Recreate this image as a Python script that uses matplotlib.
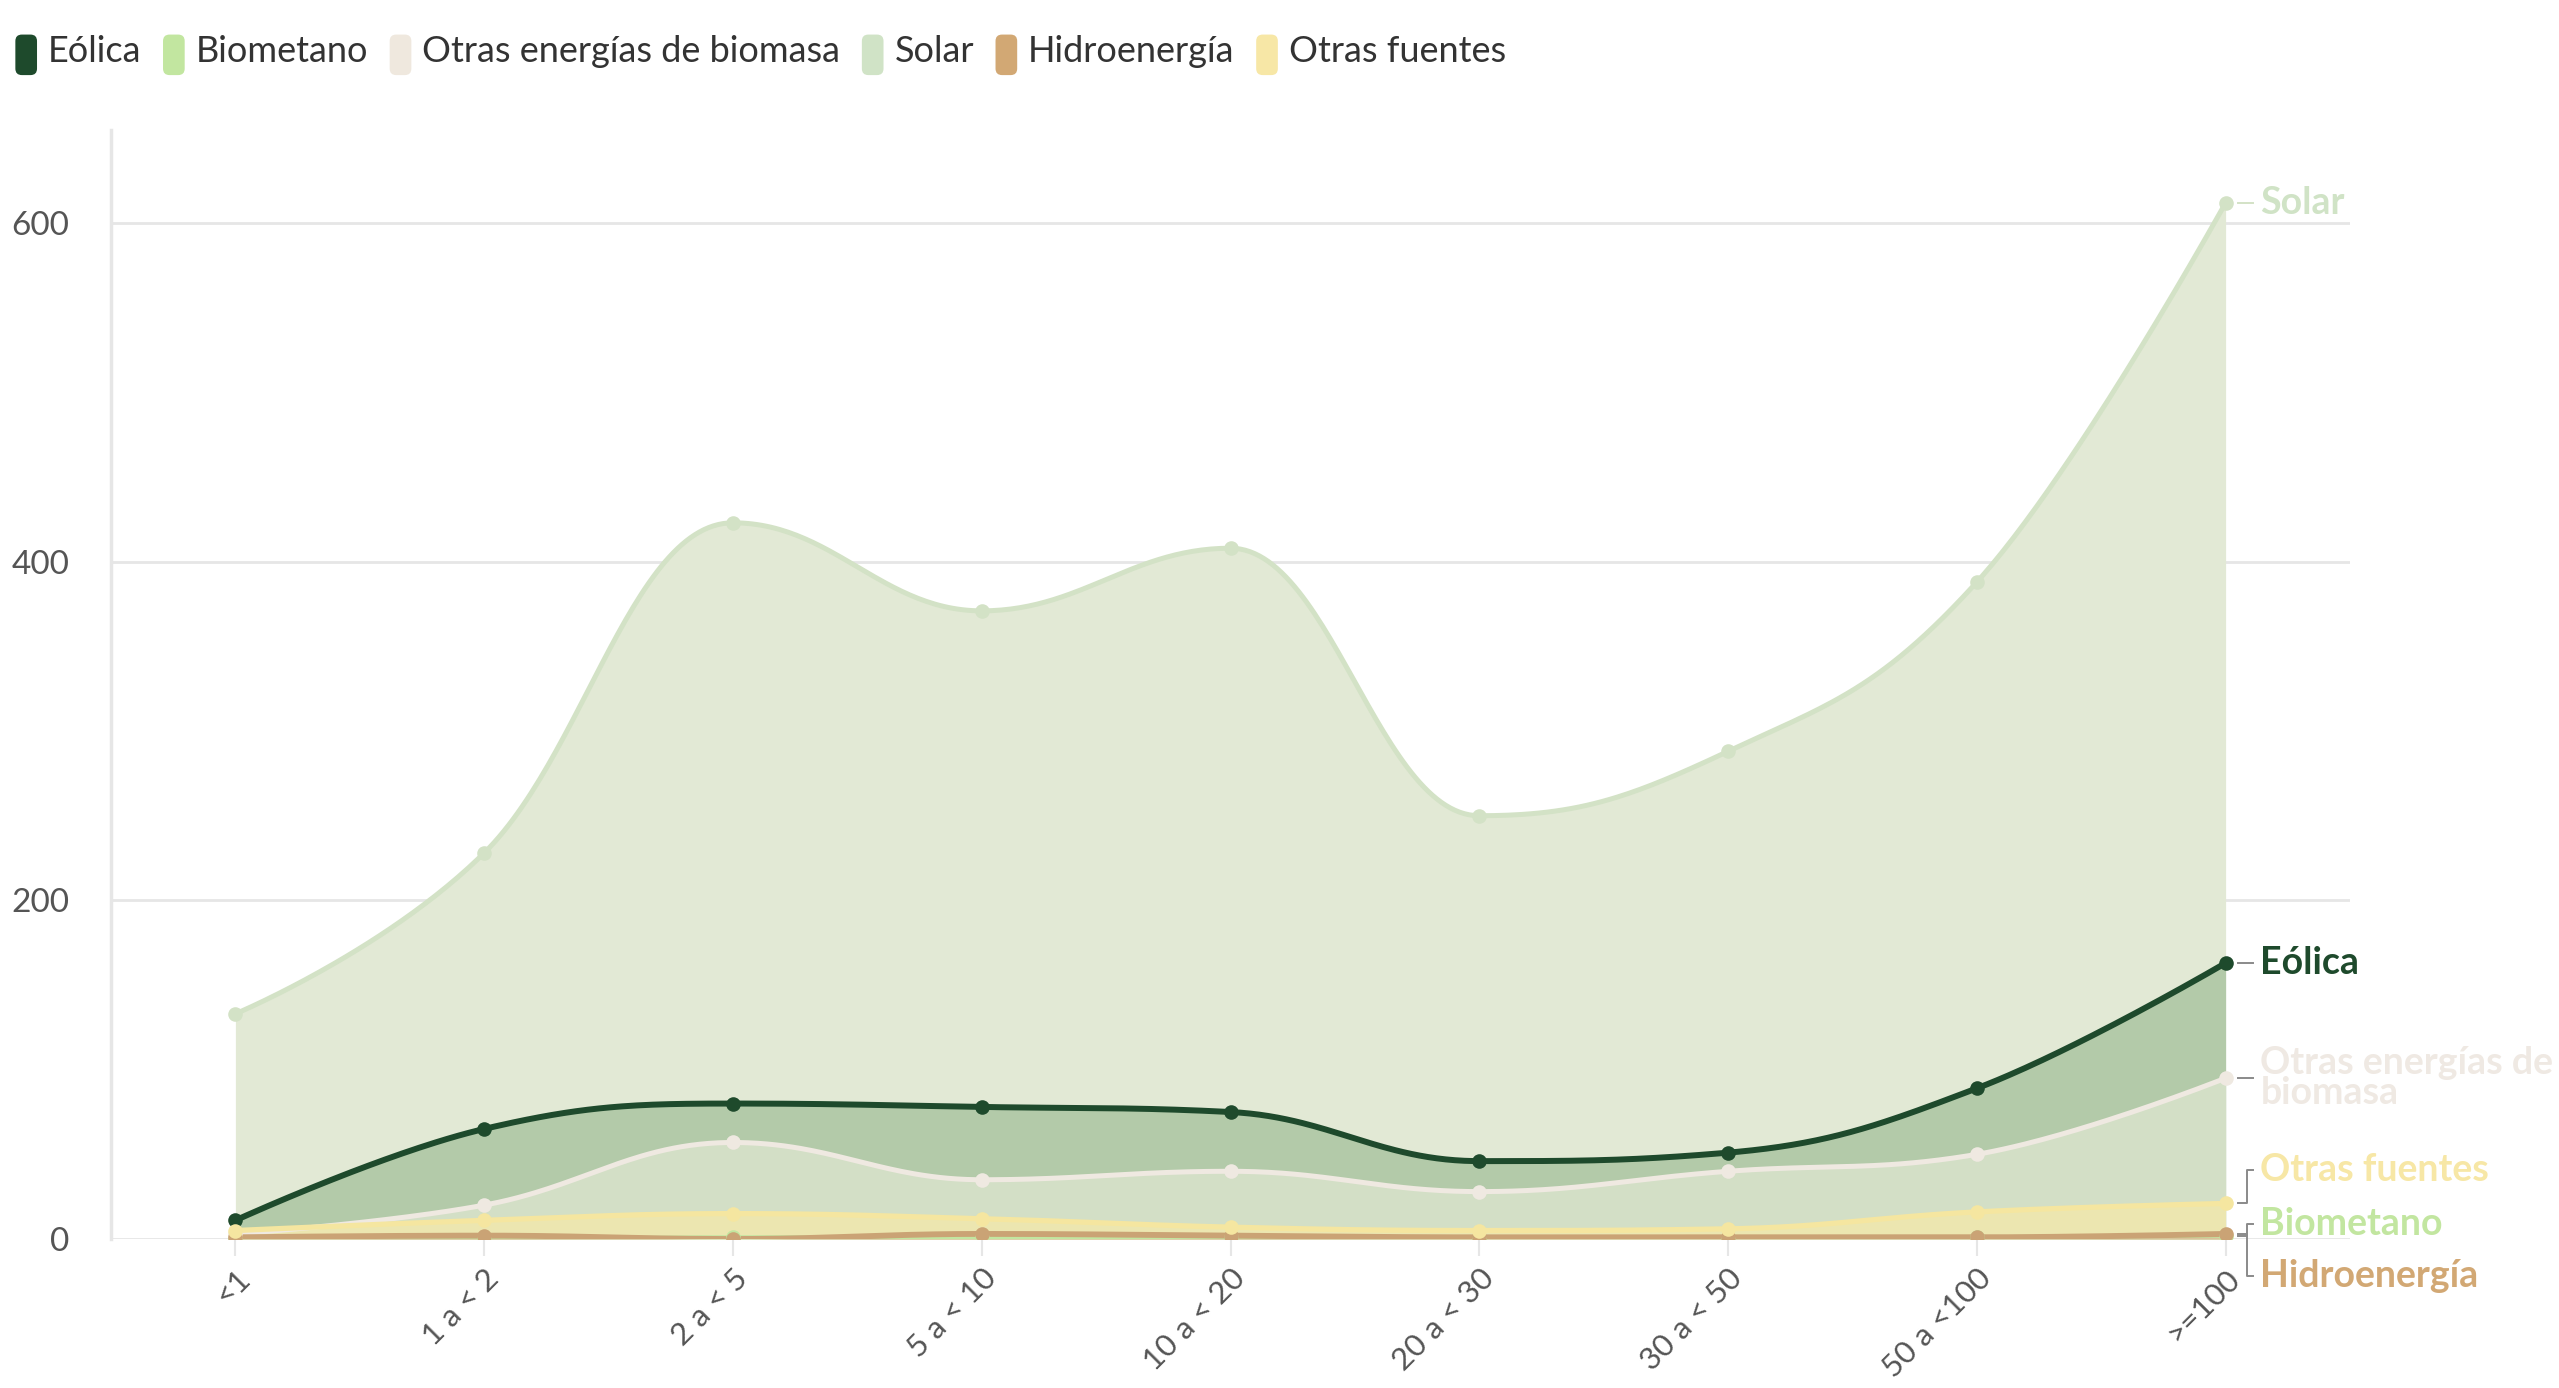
import numpy as np
import matplotlib
matplotlib.use('Agg')
import matplotlib.pyplot as plt
from matplotlib.patches import FancyBboxPatch, Patch
from matplotlib.legend_handler import HandlerBase

# ---------------- data ----------------
categories = ['<1', '1 a < 2', '2 a < 5', '5 a < 10', '10 a < 20',
              '20 a < 30', '30 a < 50', '50 a <100', '>=100']
eolica = [11, 65, 80, 78, 75, 46, 51, 89, 163]
biometano = [0, 0, 1, 1, 1, 0, 0, 1, 2]
otras_biomasa = [3, 20, 57, 35, 40, 28, 40, 50, 95]
solar = [133, 228, 423, 371, 408, 250, 288, 388, 612]
hidroenergia = [1, 2, 0, 3, 2, 1, 1, 1, 3]
otras_fuentes = [5, 11, 15, 12, 7, 5, 6, 16, 21]

series_names = ['Eólica', 'Biometano', 'Otras energías de biomasa', 'Solar',
                'Hidroenergía', 'Otras fuentes']
series_values = [eolica, biometano, otras_biomasa, solar, hidroenergia, otras_fuentes]
series_colors = ['#1e4a2c', '#c2e6a0', '#efe8de', '#d0e3c6', '#d2a874', '#f7e7a6']
line_colors = ['#1e4a2c', '#c2e6a0', '#efe9e1', '#d3e2c6', '#caa375', '#f5e6a0']
fill_colors = ['#b3caa9', '#dfe9c0', '#d3dfc6', '#e2e9d5', '#d9c39a', '#ece6b0']
fill_order = [3, 0, 2, 5, 1, 4]            # drawing order of the areas
line_w = [4.3, 3, 3.6, 3.6, 4.2, 3.8]
end_labels = ['Eólica', 'Biometano', 'Otras energías de\nbiomasa', 'Solar',
              'Hidroenergía', 'Otras fuentes']
label_shift = [0, 7, 0, 0, -25, 20]   # vertical shift of end labels (data units)

FONT = 'Lato'
plt.rcParams['font.family'] = [FONT, 'DejaVu Sans']


def hc_spline(xs, ys, smoothing=1.5, n=60):
    xs = np.asarray(xs, float)
    ys = np.asarray(ys, float)
    N = len(xs)
    lc = [None] * N
    rc = [None] * N
    for i in range(N):
        px, py = xs[i], ys[i]
        if 0 < i < N - 1:
            lx, ly = xs[i - 1], ys[i - 1]
            nx, ny = xs[i + 1], ys[i + 1]
            d = smoothing + 1
            lcx = (smoothing * px + lx) / d
            lcy = (smoothing * py + ly) / d
            rcx = (smoothing * px + nx) / d
            rcy = (smoothing * py + ny) / d
            if rcx != lcx:
                corr = ((rcy - lcy) * (rcx - px)) / (rcx - lcx) + py - rcy
                lcy += corr
                rcy += corr
            if lcy > ly and lcy > py:
                lcy = max(ly, py); rcy = 2 * py - lcy
            elif lcy < ly and lcy < py:
                lcy = min(ly, py); rcy = 2 * py - lcy
            if rcy > ny and rcy > py:
                rcy = max(ny, py); lcy = 2 * py - rcy
            elif rcy < ny and rcy < py:
                rcy = min(ny, py); lcy = 2 * py - rcy
            lc[i] = (lcx, lcy)
            rc[i] = (rcx, rcy)
        else:
            lc[i] = (px, py)
            rc[i] = (px, py)
    t = np.linspace(0, 1, n)
    X, Y = [], []
    for i in range(1, N):
        p0 = np.array([xs[i - 1], ys[i - 1]])
        p1 = np.array(rc[i - 1])
        p2 = np.array(lc[i])
        p3 = np.array([xs[i], ys[i]])
        b = ((1 - t) ** 3)[:, None] * p0 + (3 * (1 - t) ** 2 * t)[:, None] * p1 \
            + (3 * (1 - t) * t ** 2)[:, None] * p2 + (t ** 3)[:, None] * p3
        if i > 1:
            b = b[1:]
        X.append(b[:, 0]); Y.append(b[:, 1])
    return np.concatenate(X), np.concatenate(Y)


W, H, DPI = 2559, 1388, 100
fig = plt.figure(figsize=(W / DPI, H / DPI), dpi=DPI)
ax = fig.add_axes([111 / W, 1 - 1239 / H, (2350 - 111) / W, (1239 - 130) / H])

x = np.arange(len(categories))

for z, k in enumerate(fill_order):
    cx, cy = hc_spline(x, series_values[k])
    ax.fill_between(cx, 0, cy, color=fill_colors[k], lw=0, zorder=2 + z)

for k in [3, 0, 2, 1, 5, 4]:
    vals = series_values[k]
    cx, cy = hc_spline(x, vals)
    ax.plot(cx, cy, color=line_colors[k], lw=line_w[k], zorder=20 + k,
            solid_capstyle='round')
    ax.plot(x, vals, 'o', color=line_colors[k], ms=10.5, mec='none', zorder=30 + k)

# end labels + connectors
for k, (lab, vals) in enumerate(zip(end_labels, series_values)):
    yp = vals[-1]
    yl = yp + label_shift[k]
    xe = x[-1]
    ccol = line_colors[k] if k == 3 else '#8a8a8a'
    ax.plot([xe + 0.05, xe + 0.085, xe + 0.085, xe + 0.11], [yp, yp, yl, yl],
            color=ccol, lw=1.4, zorder=40, clip_on=False)
    ax.text(xe + 0.14, yl, lab, color=series_colors[k] if k != 2 else '#efe9e3',
            fontsize=27, fontweight='bold', ha='left', va='center',
            linespacing=0.85, clip_on=False, zorder=41)

ax.set_xlim(-0.5, len(categories) - 0.5)
ax.set_ylim(0, 655)
ax.set_yticks([0, 200, 400, 600])
ax.set_xticks(x)
ax.set_xticklabels(categories, rotation=45, ha='right', va='top',
                   rotation_mode='anchor')
ax.tick_params(axis='y', length=0, pad=30, labelsize=24, labelcolor='#555555')
ax.tick_params(axis='x', length=12, width=1.5, color='#e6e6e6', pad=6,
               labelsize=22.5, labelcolor='#555555')
ax.grid(axis='y', color='#e6e6e6', lw=2, zorder=0)
ax.set_axisbelow(True)
for s in ['top', 'right', 'bottom']:
    ax.spines[s].set_visible(False)
ax.spines['left'].set_color('#e6e6e6')
ax.spines['left'].set_linewidth(2.5)
ax.spines['left'].set_bounds(0, 655)


class RoundHandler(HandlerBase):
    def create_artists(self, legend, orig_handle, xdescent, ydescent, width, height,
                       fontsize, trans):
        p = FancyBboxPatch((-xdescent, -ydescent - height * 0.12), width, height,
                           boxstyle='round,pad=0,rounding_size=%f' % (width * 0.3),
                           fc=orig_handle.get_facecolor(), ec='none', transform=trans)
        return [p]


handles = [Patch(facecolor=c) for c in series_colors]
leg = fig.legend(handles, series_names, loc='center left', bbox_to_anchor=(0.006, 0.964),
                 ncol=6, frameon=False, fontsize=26, handlelength=0.6, handleheight=1.35,
                 handletextpad=0.3, columnspacing=0.6, borderaxespad=0, borderpad=0,
                 handler_map={Patch: RoundHandler()})
for t in leg.get_texts():
    t.set_color('#333333')

fig.savefig('out.png', dpi=DPI)
